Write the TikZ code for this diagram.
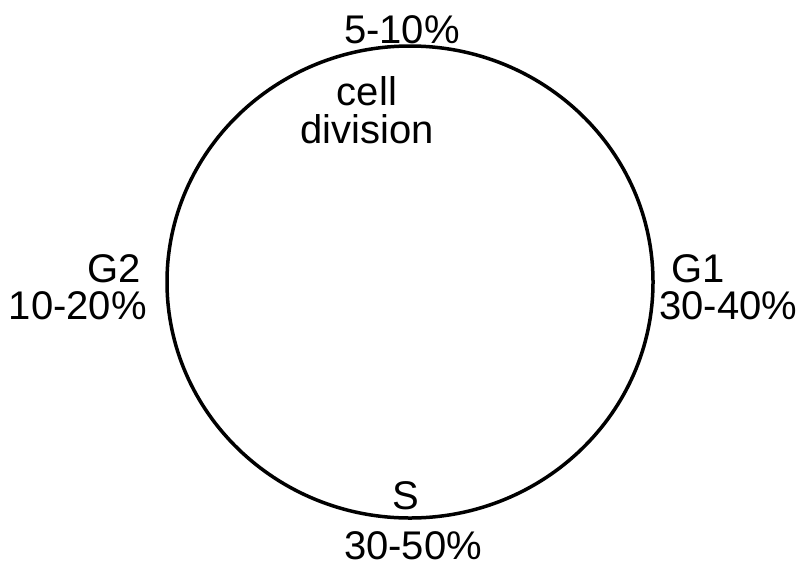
\documentclass[tikz,border=0pt]{standalone}
\usepackage{fontspec}
\setmainfont{Liberation Sans}
\usetikzlibrary{positioning}
\tikzset{
  lbl/.style={inner sep=0pt, font=\fontsize{40}{38}\selectfont},
  ring/.style={draw=black, line width=3.5pt}
}
\begin{document}
\begin{tikzpicture}[x=1pt,y=-1pt]
\useasboundingbox (0,0) rectangle (802,568);
\draw[ring] (410,282) ellipse [x radius=243, y radius=236];
\node[lbl, anchor=base] (mitp) at (402,43) {5-10\%};
\node[lbl, align=center, anchor=north] (cell) at (367,76) {cell\\division};
\node[lbl, anchor=base east] (g2) at (141,282) {G2};
\node[lbl, anchor=base east] (g2p) at (147,319) {10-20\%};
\node[lbl, anchor=base west] (g1) at (671,282) {G1};
\node[lbl, anchor=base west] (g1p) at (659,319) {30-40\%};
\node[lbl, anchor=base] (s) at (406,509) {S};
\node[lbl, anchor=base] (sp) at (413,559) {30-50\%};
\end{tikzpicture}
\end{document}
